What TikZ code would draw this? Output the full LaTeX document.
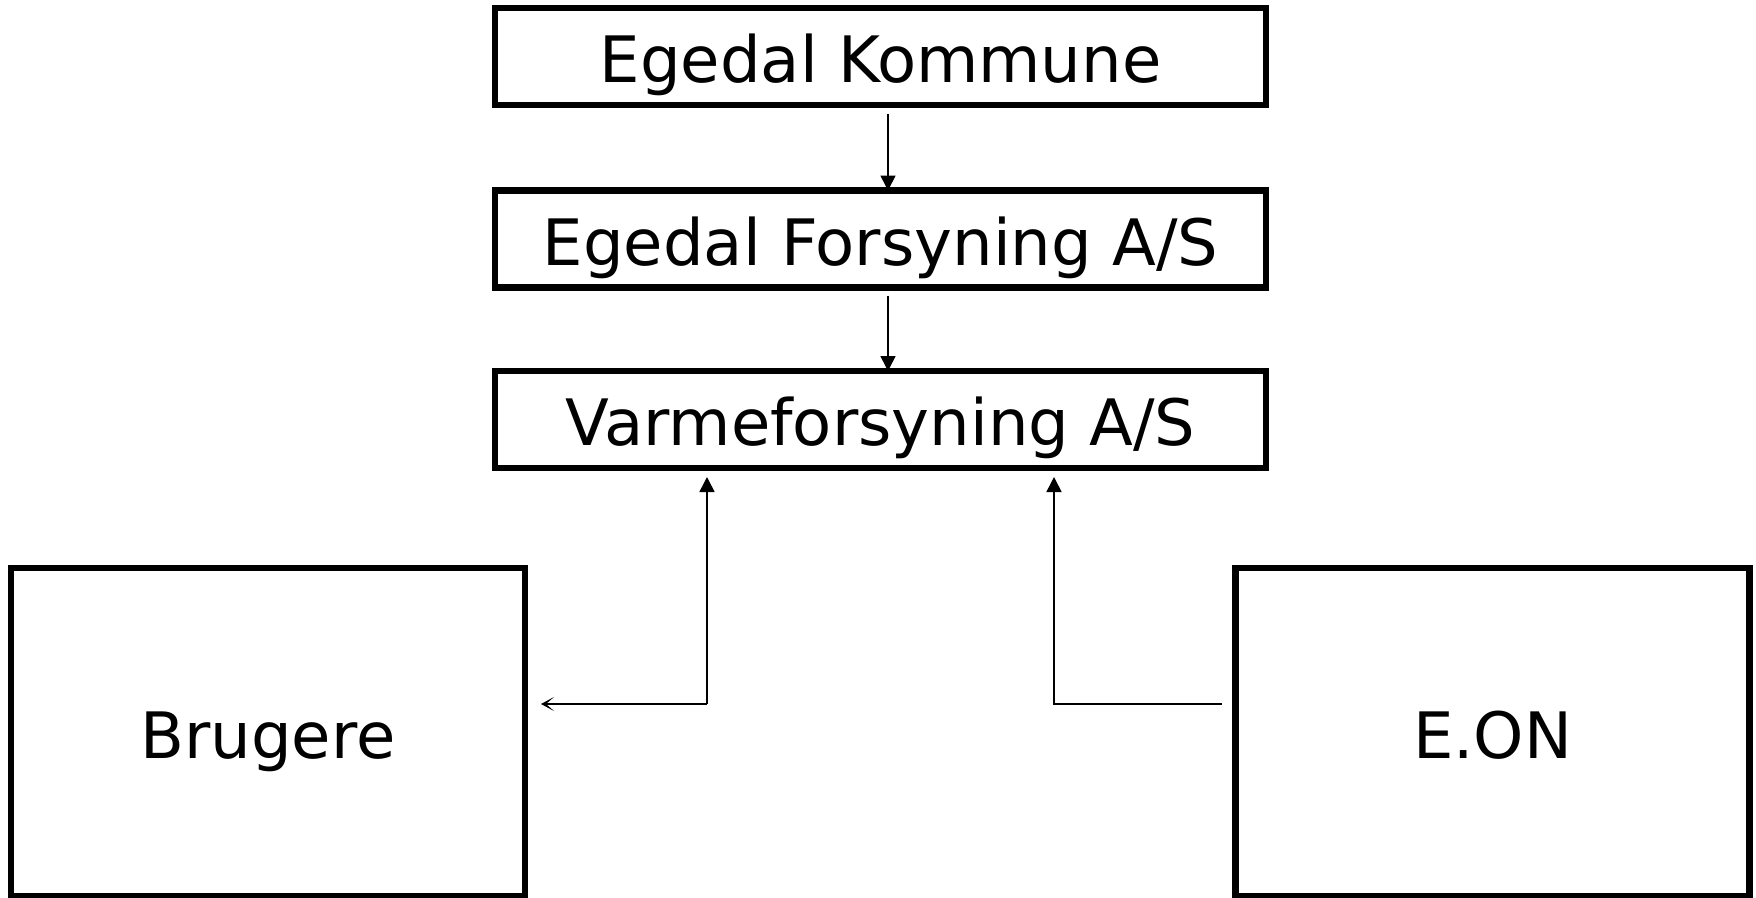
\documentclass[tikz,border=0pt]{standalone}
\usepackage{fontspec}
\setmainfont{DejaVu Sans}
\usetikzlibrary{arrows.meta}
\begin{document}
\begin{tikzpicture}[x=1pt,y=-1pt,
  box/.style={draw=black,line width=6.5pt,inner sep=0pt,outer sep=0pt,
    text height=52pt,text depth=0pt,
    font=\fontsize{64}{76}\selectfont},
  topbox/.style={box,minimum width=771pt,minimum height=97pt},
  bigbox/.style={box,minimum width=514pt,minimum height=328pt},
  arr/.style={line width=1.6pt,-{Triangle[length=15pt,width=15pt]}},
  barb/.style={line width=1.6pt,-{Stealth[length=13pt,width=14pt,inset=8pt]}}]
\useasboundingbox (0,0) rectangle (1756,897);
\node[topbox] (K) at (880.5,56.5) {Egedal Kommune};
\node[topbox] (F) at (880.5,239) {Egedal Forsyning A/S};
\node[topbox] (V) at (880.5,419.5) {Varmeforsyning A/S};
\node[bigbox] (B) at (268,732) {Brugere};
\node[bigbox] (E) at (1492.5,732) {E.ON};
\coordinate (bc) at (707,704);
\coordinate (ec) at (1054,704);
\coordinate (vt) at ([yshift=-9pt]V.south);
\coordinate (bt) at ([xshift=16pt]B.east);
\coordinate (et) at ([xshift=-14pt]E.west);
\draw[arr] ([xshift=7.5pt,yshift=-9pt]K.south) -- ([xshift=7.5pt]F.north);
\draw[arr] ([xshift=7.5pt,yshift=-8pt]F.south) -- ([xshift=7.5pt]V.north);
\draw[arr] (bc) -- (bc |- vt);
\draw[barb] (bc) -- (bt |- bc);
\draw[arr] (et |- ec) -- (ec) -- (ec |- vt);
\end{tikzpicture}
\end{document}
